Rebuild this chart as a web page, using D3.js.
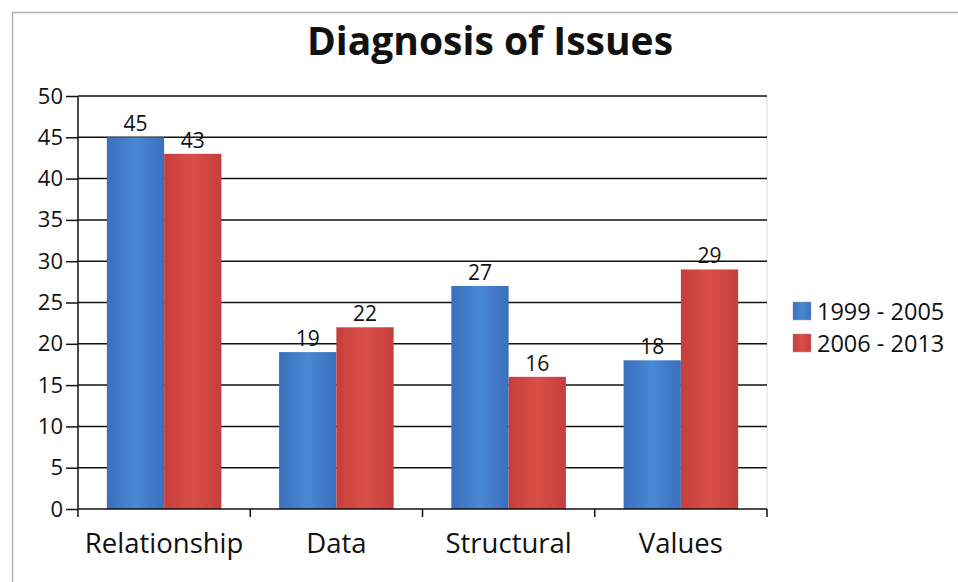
<!DOCTYPE html>
<html>
<head>
<meta charset="utf-8">
<script src="https://cdn.jsdelivr.net/npm/d3@7"></script>
<style>
  body { margin: 0; background: #fff; }
  text { font-family: "Open Sans", Lato, sans-serif; fill: #111; }
</style>
</head>
<body>
<svg width="958" height="582"></svg>
<script>
const categories = ['Relationship', 'Data', 'Structural', 'Values'];
const seriesNames = ['1999 - 2005', '2006 - 2013'];
const early = [45, 19, 27, 18];
const late = [43, 22, 16, 29];
const yTicks = [0, 5, 10, 15, 20, 25, 30, 35, 40, 45, 50];

const svg = d3.select('svg');

// outer frame
svg.append('rect')
  .attr('x', 12.5).attr('y', 12.5)
  .attr('width', 960).attr('height', 580)
  .attr('fill', 'none')
  .attr('stroke', '#b0b0b0')
  .attr('stroke-width', 1.5);

const plotLeft = 78, plotRight = 767, plotTop = 96, plotBottom = 509;

const x0 = d3.scaleBand()
  .domain(categories)
  .range([plotLeft, plotRight])
  .paddingInner(0.335)
  .paddingOuter(0.1675);

const x1 = d3.scaleBand()
  .domain([0, 1])
  .range([0, x0.bandwidth()]);

const y = d3.scaleLinear().domain([0, 50]).range([plotBottom, plotTop]);

const defs = svg.append('defs');
const grads = [['#3a6fbd', '#4a88d4', '#3a6fbd'], ['#c63e3c', '#d94f47', '#c63e3c']];
grads.forEach((g, i) => {
  const lg = defs.append('linearGradient')
    .attr('id', 'g' + i)
    .attr('x1', '0%').attr('x2', '100%').attr('y1', '0%').attr('y2', '0%');
  lg.append('stop').attr('offset', '0%').attr('stop-color', g[0]);
  lg.append('stop').attr('offset', '50%').attr('stop-color', g[1]);
  lg.append('stop').attr('offset', '100%').attr('stop-color', g[2]);
});

// plot area right edge
svg.append('line')
  .attr('x1', plotRight).attr('x2', plotRight)
  .attr('y1', plotTop).attr('y2', plotBottom)
  .attr('stroke', '#d8d8d8');

// gridlines
svg.append('g')
  .selectAll('line')
  .data(yTicks.filter(d => d > 0))
  .enter()
  .append('line')
  .attr('x1', plotLeft).attr('x2', plotRight)
  .attr('y1', d => y(d)).attr('y2', d => y(d))
  .attr('stroke', '#111')
  .attr('stroke-width', 1.5);

// bars
const rows = categories.map((c, i) => ({ cat: c, vals: [early[i], late[i]] }));

const groups = svg.append('g')
  .selectAll('g')
  .data(rows)
  .enter()
  .append('g')
  .attr('transform', d => `translate(${x0(d.cat)},0)`);

groups.selectAll('rect')
  .data(d => d.vals.map((v, s) => ({ v, s })))
  .enter()
  .append('rect')
  .attr('x', d => x1(d.s))
  .attr('width', x1.bandwidth())
  .attr('y', d => y(d.v))
  .attr('height', d => y(0) - y(d.v))
  .attr('fill', d => `url(#g${d.s})`);

groups.selectAll('text')
  .data(d => d.vals.map((v, s) => ({ v, s })))
  .enter()
  .append('text')
  .attr('x', d => x1(d.s) + x1.bandwidth() / 2)
  .attr('y', d => y(d.v) - 6)
  .attr('text-anchor', 'middle')
  .style('font-size', '21px')
  .text(d => d.v);

// y axis
const yAxis = svg.append('g')
  .attr('transform', `translate(${plotLeft},0)`)
  .call(d3.axisLeft(y).tickValues(yTicks).tickSize(12).tickPadding(3));
yAxis.select('.domain').remove();
yAxis.append('line')
  .attr('x1', 0).attr('x2', 0)
  .attr('y1', plotTop).attr('y2', plotBottom + 8)
  .attr('stroke', '#111').attr('stroke-width', 1.5);
yAxis.selectAll('.tick line').attr('stroke', '#111').attr('stroke-width', 1.5);
yAxis.selectAll('text')
  .style('font-size', '22px')
  .attr('fill', '#111');

// x axis
const boundaries = categories.map(c => x0(c) - x0.step() * x0.paddingInner() / 2)
  .slice(1)
  .concat([plotRight]);
svg.append('line')
  .attr('x1', plotLeft).attr('x2', plotRight)
  .attr('y1', plotBottom).attr('y2', plotBottom)
  .attr('stroke', '#111').attr('stroke-width', 1.5);
svg.append('g')
  .selectAll('line')
  .data(boundaries)
  .enter()
  .append('line')
  .attr('x1', d => d).attr('x2', d => d)
  .attr('y1', plotBottom).attr('y2', plotBottom + 8)
  .attr('stroke', '#111').attr('stroke-width', 1.5);

svg.append('g')
  .selectAll('text')
  .data(categories)
  .enter()
  .append('text')
  .attr('x', d => x0(d) + x0.bandwidth() / 2)
  .attr('y', 553)
  .attr('text-anchor', 'middle')
  .style('font-size', '27.5px')
  .text(d => d);

// title
svg.append('text')
  .attr('x', 490)
  .attr('y', 55)
  .attr('text-anchor', 'middle')
  .style('font-size', '39px')
  .style('font-weight', 'bold')
  .text('Diagnosis of Issues');

// legend
const legend = svg.append('g')
  .selectAll('g')
  .data(seriesNames)
  .enter()
  .append('g')
  .attr('transform', (d, i) => `translate(793,${302 + i * 32})`);

legend.append('rect')
  .attr('width', 18).attr('height', 18)
  .attr('fill', (d, i) => `url(#g${i})`)
  .attr('stroke', '#999')
  .attr('stroke-width', 0.5);

legend.append('text')
  .attr('x', 24)
  .attr('y', 18)
  .style('font-size', '23.5px')
  .text(d => d);
</script>
</body>
</html>
